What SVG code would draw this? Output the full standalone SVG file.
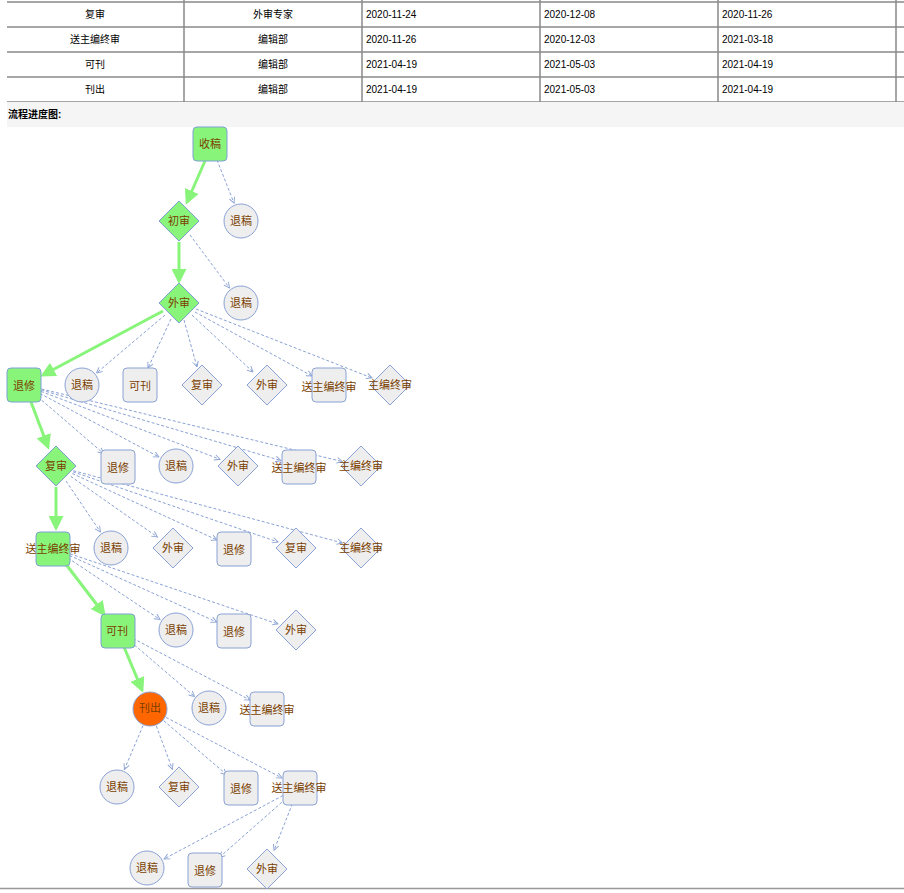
<svg xmlns="http://www.w3.org/2000/svg" width="904" height="893" viewBox="0 0 904 893">
<style>
text{font-family:"Liberation Sans","Noto Sans CJK SC",sans-serif;font-size:10px;fill:#000}
.n text{fill:#7a3e00;font-size:11px;text-anchor:middle;dominant-baseline:central}
.g{fill:#88f57a;stroke:#7e9fd2;stroke-width:1}
.y{fill:#eeeeee;stroke:#8aa2d4;stroke-width:1}
.o{fill:#ff6600;stroke:#8aa2d4;stroke-width:1}
.d{stroke:#8aa2d4;stroke-width:1;stroke-dasharray:3,2;fill:none;marker-end:url(#ad)}
.s{stroke:#88f57a;stroke-width:3;fill:none;marker-end:url(#as)}
.tl{stroke:#888;stroke-width:1.5}
.c{text-anchor:middle}
</style>
<defs>
<marker id="ad" viewBox="0 0 10 10" refX="9" refY="5" markerWidth="7" markerHeight="7" orient="auto" markerUnits="userSpaceOnUse"><path d="M1,1 L9,5 L1,9" fill="none" stroke="#8aa2d4" stroke-width="1.3"/></marker>
<marker id="as" viewBox="0 0 10 10" refX="8" refY="5" markerWidth="5" markerHeight="5" orient="auto"><path d="M0,0 L10,5 L0,10 z" fill="#88f57a"/></marker>
</defs>
<rect width="904" height="893" fill="#fff"/>
<g id="table">
<g class="tl"><line x1="7" y1="2" x2="904" y2="2"/><line x1="7" y1="27" x2="904" y2="27"/><line x1="7" y1="52" x2="904" y2="52"/><line x1="7" y1="77" x2="904" y2="77"/><line x1="7" y1="102" x2="904" y2="102"/>
<line x1="184" y1="0" x2="184" y2="102"/><line x1="362" y1="0" x2="362" y2="102"/><line x1="540" y1="0" x2="540" y2="102"/><line x1="718" y1="0" x2="718" y2="102"/><line x1="896" y1="0" x2="896" y2="102"/></g>
<text x="95" y="18" class="c">复审</text><text x="273" y="18" class="c">外审专家</text><text x="366" y="18">2020-11-24</text><text x="544" y="18">2020-12-08</text><text x="722" y="18">2020-11-26</text>
<text x="95" y="43" class="c">送主编终审</text><text x="273" y="43" class="c">编辑部</text><text x="366" y="43">2020-11-26</text><text x="544" y="43">2020-12-03</text><text x="722" y="43">2021-03-18</text>
<text x="95" y="68" class="c">可刊</text><text x="273" y="68" class="c">编辑部</text><text x="366" y="68">2021-04-19</text><text x="544" y="68">2021-05-03</text><text x="722" y="68">2021-04-19</text>
<text x="95" y="93" class="c">刊出</text><text x="273" y="93" class="c">编辑部</text><text x="366" y="93">2021-04-19</text><text x="544" y="93">2021-05-03</text><text x="722" y="93">2021-04-19</text>
<rect x="7" y="102" width="897" height="25" fill="#f5f5f5"/>
<text x="8" y="118" font-weight="bold">流程进度图:</text>
<line x1="0" y1="888.5" x2="904" y2="888.5" stroke="#999" stroke-width="1.5"/>
</g>
<g id="connectors">
<line class="s" x1="205" y1="161" x2="187" y2="202"/>
<line class="s" x1="179" y1="242" x2="179" y2="281"/>
<line class="s" x1="163" y1="311" x2="43" y2="375"/>
<line class="s" x1="31" y1="402" x2="48" y2="447"/>
<line class="s" x1="56" y1="487" x2="56" y2="528"/>
<line class="s" x1="65" y1="563" x2="104" y2="614"/>
<line class="s" x1="124" y1="647" x2="142" y2="690"/>
<line class="d" x1="217" y1="160" x2="234" y2="203"/>
<line class="d" x1="190" y1="235" x2="229.5" y2="288"/>
<line class="d" x1="165" y1="315" x2="96.5" y2="373"/>
<line class="d" x1="171" y1="319" x2="148" y2="368"/>
<line class="d" x1="184" y1="320" x2="197" y2="367"/>
<line class="d" x1="192" y1="315" x2="253" y2="372"/>
<line class="d" x1="195" y1="312" x2="312" y2="376"/>
<line class="d" x1="196" y1="309" x2="372" y2="378"/>
<line class="d" x1="38" y1="397" x2="103.6" y2="453.6"/>
<line class="d" x1="40" y1="393.5" x2="159" y2="457"/>
<line class="d" x1="41" y1="391.4" x2="220" y2="459.3"/>
<line class="d" x1="41.3" y1="390" x2="281" y2="460.6"/>
<line class="d" x1="41.5" y1="389" x2="342.5" y2="461.6"/>
<line class="d" x1="66" y1="481" x2="100.4" y2="532"/>
<line class="d" x1="70.7" y1="476.3" x2="157.4" y2="537"/>
<line class="d" x1="72.3" y1="473.5" x2="217" y2="540"/>
<line class="d" x1="73" y1="471.8" x2="278" y2="542"/>
<line class="d" x1="73.4" y1="470.7" x2="342.6" y2="543"/>
<line class="d" x1="68" y1="558" x2="160" y2="619.5"/>
<line class="d" x1="69.4" y1="555.4" x2="216.7" y2="622"/>
<line class="d" x1="70" y1="553.8" x2="278" y2="624"/>
<line class="d" x1="130.6" y1="641.7" x2="194.6" y2="696.6"/>
<line class="d" x1="133" y1="638.4" x2="250" y2="700"/>
<line class="d" x1="143" y1="725.6" x2="124.4" y2="769.5"/>
<line class="d" x1="156.3" y1="726" x2="172.4" y2="769.2"/>
<line class="d" x1="163.7" y1="720.7" x2="226.6" y2="774.6"/>
<line class="d" x1="166" y1="717.4" x2="282" y2="778"/>
<line class="d" x1="283" y1="795.5" x2="164" y2="859"/>
<line class="d" x1="285.5" y1="799" x2="219.3" y2="857.4"/>
<line class="d" x1="292.4" y1="803.7" x2="274" y2="850.3"/>
</g>
<g class="n">
<g id="n1"><rect class="g" x="193" y="127" width="34" height="34" rx="4"/><text x="210" y="144">收稿</text></g>
<g id="n2"><polygon class="g" points="179,201 199,221 179,241 159,221"/><text x="179" y="221">初审</text></g>
<g id="n3"><circle class="y" cx="241" cy="221" r="17"/><text x="241" y="221">退稿</text></g>
<g id="n4"><polygon class="g" points="179,283 199,303 179,323 159,303"/><text x="179" y="303">外审</text></g>
<g id="n5"><circle class="y" cx="241" cy="303" r="17"/><text x="241" y="303">退稿</text></g>
<g id="n6"><rect class="g" x="7" y="368" width="34" height="34" rx="4"/><text x="24" y="386">退修</text></g>
<g id="n7"><circle class="y" cx="82" cy="385" r="17"/><text x="82" y="385">退稿</text></g>
<g id="n8"><rect class="y" x="123" y="368" width="34" height="34" rx="4"/><text x="140" y="386">可刊</text></g>
<g id="n9"><polygon class="y" points="202,365 222,385 202,405 182,385"/><text x="202" y="385">复审</text></g>
<g id="n10"><polygon class="y" points="267,365 287,385 267,405 247,385"/><text x="267" y="385">外审</text></g>
<g id="n11"><rect class="y" x="312" y="368" width="34" height="34" rx="4"/><text x="329" y="387">送主编终审</text></g>
<g id="n12"><polygon class="y" points="390,365 410,385 390,405 370,385"/><text x="390" y="385">主编终审</text></g>
<g id="n13"><polygon class="g" points="56,446 76,466 56,486 36,466"/><text x="56" y="466">复审</text></g>
<g id="n14"><rect class="y" x="101" y="450" width="34" height="34" rx="4"/><text x="118" y="468">退修</text></g>
<g id="n15"><circle class="y" cx="176" cy="466" r="17"/><text x="176" y="466">退稿</text></g>
<g id="n16"><polygon class="y" points="238,446 258,466 238,486 218,466"/><text x="238" y="466">外审</text></g>
<g id="n17"><rect class="y" x="282" y="450" width="34" height="34" rx="4"/><text x="299" y="468">送主编终审</text></g>
<g id="n18"><polygon class="y" points="361,446 381,466 361,486 341,466"/><text x="361" y="466">主编终审</text></g>
<g id="n19"><rect class="g" x="36" y="532" width="34" height="34" rx="4"/><text x="53" y="549">送主编终审</text></g>
<g id="n20"><circle class="y" cx="111" cy="548" r="17"/><text x="111" y="548">退稿</text></g>
<g id="n21"><polygon class="y" points="173,528 193,548 173,568 153,548"/><text x="173" y="548">外审</text></g>
<g id="n22"><rect class="y" x="217" y="532" width="34" height="34" rx="4"/><text x="234" y="550">退修</text></g>
<g id="n23"><polygon class="y" points="296,528 316,548 296,568 276,548"/><text x="296" y="548">复审</text></g>
<g id="n24"><polygon class="y" points="361,528 381,548 361,568 341,548"/><text x="361" y="548">主编终审</text></g>
<g id="n25"><rect class="g" x="101" y="614" width="34" height="34" rx="4"/><text x="117" y="631">可刊</text></g>
<g id="n26"><circle class="y" cx="176" cy="630" r="17"/><text x="176" y="630">退稿</text></g>
<g id="n27"><rect class="y" x="217" y="614" width="34" height="34" rx="4"/><text x="234" y="632">退修</text></g>
<g id="n28"><polygon class="y" points="296,610 316,630 296,650 276,630"/><text x="296" y="630">外审</text></g>
<g id="n29"><circle class="o" cx="150" cy="709" r="17"/><text x="150" y="708">刊出</text></g>
<g id="n30"><circle class="y" cx="209" cy="708" r="17"/><text x="209" y="708">退稿</text></g>
<g id="n31"><rect class="y" x="250" y="692" width="34" height="34" rx="4"/><text x="267" y="710">送主编终审</text></g>
<g id="n32"><circle class="y" cx="117" cy="787" r="17"/><text x="117" y="787">退稿</text></g>
<g id="n33"><polygon class="y" points="179,767 199,787 179,807 159,787"/><text x="179" y="787">复审</text></g>
<g id="n34"><rect class="y" x="224" y="771" width="34" height="34" rx="4"/><text x="241" y="789">退修</text></g>
<g id="n35"><rect class="y" x="283" y="771" width="34" height="34" rx="4"/><text x="299" y="788">送主编终审</text></g>
<g id="n36"><circle class="y" cx="147" cy="868" r="17"/><text x="147" y="868">退稿</text></g>
<g id="n37"><rect class="y" x="188" y="853" width="34" height="34" rx="4"/><text x="205" y="871">退修</text></g>
<g id="n38"><polygon class="y" points="267,849 287,869 267,889 247,869"/><text x="267" y="869">外审</text></g>
</g>
</svg>
